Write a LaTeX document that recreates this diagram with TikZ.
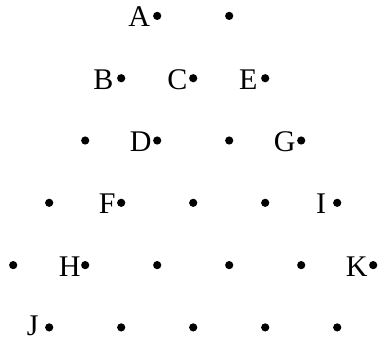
\documentclass[tikz,border=0pt]{standalone}
\usepackage{fontspec}
\setmainfont{Liberation Serif}
\begin{document}
\begin{tikzpicture}[x=1pt,y=-1pt,
  dotnode/.style={circle,fill=black,inner sep=0pt,minimum size=8.2pt},
  lbl/.style={anchor=base east,inner sep=0pt,text depth=0pt,font=\fontsize{30}{30}\selectfont}]
\useasboundingbox (0,0) rectangle (379,341);
% rows: row number / list of column indices
\foreach \r/\cols in {1/{4,6},2/{3,5,7},3/{2,4,6,8},4/{1,3,5,7,9},5/{0,2,4,6,8,10},6/{1,3,5,7,9}}{
  \foreach \k in \cols {
    \node[dotnode] (d\r-\k) at ({13.2+36*\k},{15.9+62.3*(\r-1)}) {};
  }
}
\foreach \n/\t/\s/\v in {d1-4/A/7/11, d2-3/B/7.5/11, d2-5/C/5.5/11, d2-7/E/7.5/11, d3-4/D/5.5/11, d3-8/G/5.5/11,
                      d4-3/F/5.5/11, d4-9/I/11/11, d5-2/H/4.5/11, d5-10/K/5.5/11, d6-1/J/10.5/8.5}{
  \node[lbl] (l\t) at ([xshift=-\s pt,yshift=-\v pt]\n.center) {\t};
}
\end{tikzpicture}
\end{document}
